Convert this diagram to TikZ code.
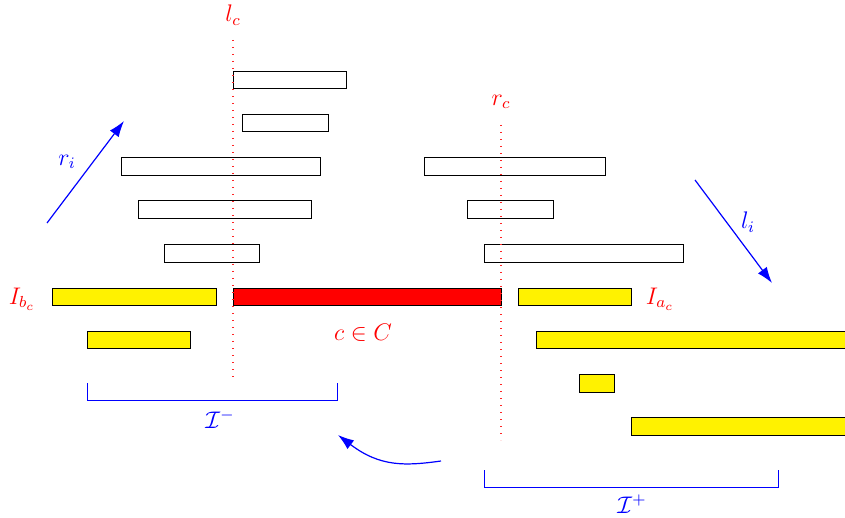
\documentclass[tikz,border=0pt]{standalone}
\usetikzlibrary{arrows.meta}
\begin{document}
\begin{tikzpicture}[x=0.5pt,y=-0.5pt,
  wbox/.style={draw=black,line width=0.5pt,fill=white},
  ybox/.style={draw=black,line width=0.5pt,fill=yellow},
  rbox/.style={draw=black,line width=0.5pt,fill=red},
  guide/.style={red!85,line width=0.6pt,dash pattern=on 0.6pt off 2.9pt},
  redlbl/.style={text=red,font=\large},
  bluelbl/.style={text=blue,font=\large},
  barrow/.style={blue,line width=0.6pt,-{Latex[length=8pt,width=5.5pt]}},
  brace/.style={blue,line width=0.5pt}]
\useasboundingbox (0,0) rectangle (845,518);

% intervals above
\draw[wbox] (233,72) rectangle (346,89);
\draw[wbox] (242,115) rectangle (328,132);
\draw[wbox] (121,158) rectangle (320,176);
\draw[wbox] (138,201) rectangle (311,219);
\draw[wbox] (164,244) rectangle (259,262);
\draw[wbox] (424,158) rectangle (605,176);
\draw[wbox] (467,201) rectangle (553,219);
\draw[wbox] (484,244) rectangle (683,262);

% the row of c
\draw[ybox] (52,288) rectangle (216,305);
\draw[rbox] (233,288) rectangle (501,305);
\draw[ybox] (518,288) rectangle (631,305);
\node[redlbl] (ibc) at (22,299) {$I_{b_c}$};
\node[redlbl] (iac) at (660,299) {$I_{a_c}$};
\node[redlbl] (cC) at (363,333) {$c\in C$};

% intervals below
\draw[ybox] (87,331) rectangle (190,348);
\draw[ybox] (536,331) rectangle (846,348);
\draw[ybox] (579,374) rectangle (614,392);
\draw[ybox] (631,417) rectangle (846,435);

% vertical guides at l_c and r_c, over the intervals
\coordinate (lctop) at (233,40);
\coordinate (lcbot) at (233,380);
\coordinate (rctop) at (501,125);
\coordinate (rcbot) at (501,440);
\draw[guide] (lctop) -- (lcbot);
\draw[guide] (rctop) -- (rcbot);
\node[redlbl] (lc) at (233,15) {$l_c$};
\node[redlbl] (rc) at (501,102) {$r_c$};

% brackets
\draw[brace] (87,383) |- (337,400) -- (337,383);
\node[bluelbl] (im) at (220,419) {$\mathcal{I}^{-}$};
\draw[brace] (484,470) |- (778,487) -- (778,470);
\node[bluelbl] (ip) at (632,504) {$\mathcal{I}^{+}$};

% direction arrows
\coordinate (ria) at (47,223);
\coordinate (rib) at (124,121);
\draw[barrow] (ria) -- (rib);
\node[bluelbl] (ri) at (67,162) {$r_i$};
\coordinate (lia) at (695,180);
\coordinate (lib) at (772,283);
\draw[barrow] (lia) -- (lib);
\node[bluelbl] (li) at (748,222) {$l_i$};

\coordinate (ca) at (441,461);
\coordinate (cb) at (338,435);
\draw[barrow] (ca) .. controls (405,466) and (380,467) .. (cb);
\end{tikzpicture}
\end{document}
